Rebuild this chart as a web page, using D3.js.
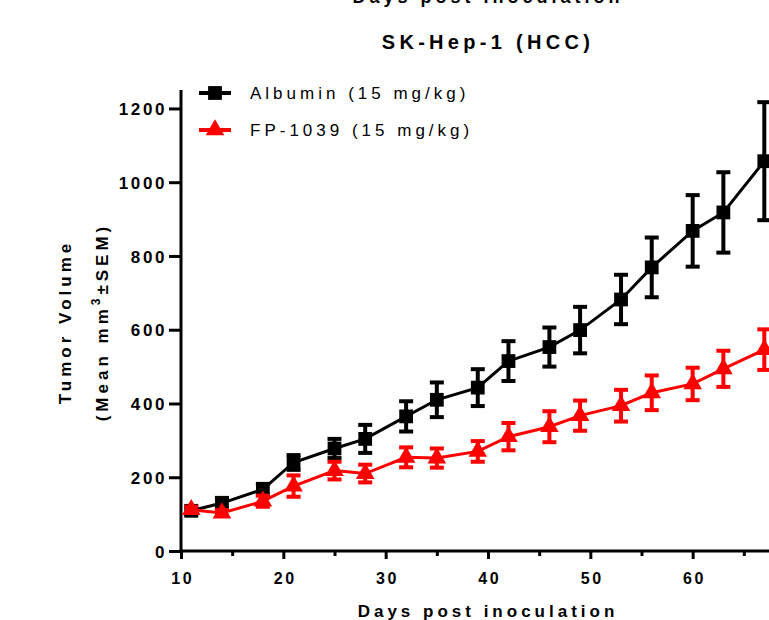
<!DOCTYPE html>
<html><head><meta charset="utf-8">
<script src="https://cdn.jsdelivr.net/npm/d3@7"></script>
<style>body{margin:0;background:#fff}svg{display:block;font-family:"Liberation Sans",Arial,sans-serif}</style>
</head><body><svg id="c" width="769" height="620"></svg>
<script>
const days = [11,14,18,21,25,28,32,35,39,42,46,49,53,56,60,63,67];
const albuminMean = [109,130,167,240,278,304,365,410,443,515,553,599,682,769,868,918,1057];
const albuminSem  = [10,14,15,20,26,38,41,47,50,54,53,63,67,81,97,109,160];
const fpMean = [112,103,135,176,218,210,254,252,270,310,337,367,394,429,453,494,546];
const fpSem  = [8,8,15,29,24,24,27,26,28,37,42,41,43,47,44,49,55];
const xTicks = [10,20,30,40,50,60];
const xMinorTicks = [15,25,35,45,55,65];
const yTicks = [0,200,400,600,800,1000,1200];
const seriesNames = ["Albumin (15 mg/kg)","FP-1039 (15 mg/kg)"];
const seriesColors = ["#000000","#ff0000"];

const svg = d3.select("#c");
const x = d3.scaleLinear().domain([10,70]).range([181,795]);
const y = d3.scaleLinear().domain([0,1250]).range([551,90]);

const series = [
  {name:seriesNames[0], color:seriesColors[0], mean:albuminMean, sem:albuminSem, sym:d3.symbolSquare, size:190},
  {name:seriesNames[1], color:seriesColors[1], mean:fpMean, sem:fpSem, sym:d3.symbolTriangle, size:150}
];

// axes
const yAxis = d3.axisLeft(y).tickValues(yTicks).tickSize(12).tickPadding(2).tickFormat(d3.format("d"));
const gy = svg.append("g").attr("transform","translate(181,0)").call(yAxis);
const xAxis = d3.axisBottom(x).tickValues(xTicks).tickSize(8).tickPadding(14).tickFormat(d3.format("d"));
const gx = svg.append("g").attr("transform","translate(0,551)").call(xAxis);
svg.append("g").attr("transform","translate(0,551)")
  .call(d3.axisBottom(x).tickValues(xMinorTicks).tickSize(5).tickFormat(""))
  .call(g=>g.select(".domain").remove())
  .selectAll("line").attr("stroke-width",3);
[gx,gy].forEach(g=>{
  g.attr("font-family",null);
  g.selectAll(".tick line").attr("stroke-width",3);
  g.selectAll("text").attr("font-weight","bold").attr("fill","#000");
});
gy.selectAll("text").attr("font-size",17).attr("letter-spacing","2.6px").attr("dy","0.36em");
gx.selectAll("text").attr("font-size",16).attr("letter-spacing","2.6px").attr("dx","1.3px");
gy.select(".domain").remove();
gx.select(".domain").remove();
svg.append("line").attr("x1",181).attr("x2",181).attr("y1",y(1250)).attr("y2",y(0)+1.5)
  .attr("stroke","#000").attr("stroke-width",3);
svg.append("line").attr("x1",179.5).attr("x2",769).attr("y1",y(0)).attr("y2",y(0))
  .attr("stroke","#000").attr("stroke-width",3);

// series
series.forEach(s=>{
  const g = svg.append("g");
  const pts = days.map((d,i)=>({d, m:s.mean[i], e:s.sem[i]}));
  g.append("path").datum(pts)
    .attr("d", d3.line().x(p=>x(p.d)).y(p=>y(p.m)))
    .attr("fill","none").attr("stroke",s.color).attr("stroke-width",3);
  const eb = g.selectAll(".eb").data(pts).enter().append("g");
  eb.append("line").attr("x1",p=>x(p.d)).attr("x2",p=>x(p.d))
    .attr("y1",p=>y(p.m+p.e)).attr("y2",p=>y(p.m-p.e))
    .attr("stroke",s.color).attr("stroke-width",4);
  [1,-1].forEach(sg=>{
    eb.append("line").attr("x1",p=>x(p.d)-7).attr("x2",p=>x(p.d)+7)
      .attr("y1",p=>y(p.m+sg*p.e)).attr("y2",p=>y(p.m+sg*p.e))
      .attr("stroke",s.color).attr("stroke-width",4);
  });
  g.selectAll(".pt").data(pts).enter().append("path")
    .attr("transform",p=>`translate(${x(p.d)},${y(p.m)})`)
    .attr("d", d3.symbol().type(s.sym).size(s.size)).attr("fill",s.color);
});

// legend
series.forEach((s,i)=>{
  const ly = 93 + i*37;
  svg.append("line").attr("x1",199).attr("x2",231).attr("y1",ly).attr("y2",ly)
    .attr("stroke",s.color).attr("stroke-width",4);
  svg.append("path").attr("transform",`translate(215,${ly})`)
    .attr("d", d3.symbol().type(s.sym).size(s.size)).attr("fill",s.color);
  svg.append("text").attr("x",250).attr("y",ly+6).text(s.name)
    .attr("font-size",17).attr("letter-spacing","4px").attr("fill","#000");
});

// titles
svg.append("text").attr("x",488).attr("y",3).attr("text-anchor","middle")
  .attr("font-size",18).attr("font-weight","bold").attr("letter-spacing","4px")
  .text("Days post inoculation");
svg.append("text").attr("x",488).attr("y",49).attr("text-anchor","middle")
  .attr("font-size",20).attr("font-weight","bold").attr("letter-spacing","4.3px")
  .text("SK-Hep-1 (HCC)");
svg.append("text").attr("x",488).attr("y",617).attr("text-anchor","middle")
  .attr("font-size",17).attr("font-weight","bold").attr("letter-spacing","4px")
  .text("Days post inoculation");
svg.append("text").attr("transform","translate(71,322) rotate(-90)").attr("text-anchor","middle")
  .attr("font-size",17).attr("font-weight","bold").attr("letter-spacing","4px")
  .text("Tumor Volume");
const t2 = svg.append("text").attr("transform","translate(108,322) rotate(-90)").attr("text-anchor","middle")
  .attr("font-size",17).attr("font-weight","bold").attr("letter-spacing","4px");
t2.append("tspan").text("(Mean mm");
t2.append("tspan").attr("dy",-8).attr("font-size",12).text("3");
t2.append("tspan").attr("dy",8).text("±SEM)");
</script></body></html>
